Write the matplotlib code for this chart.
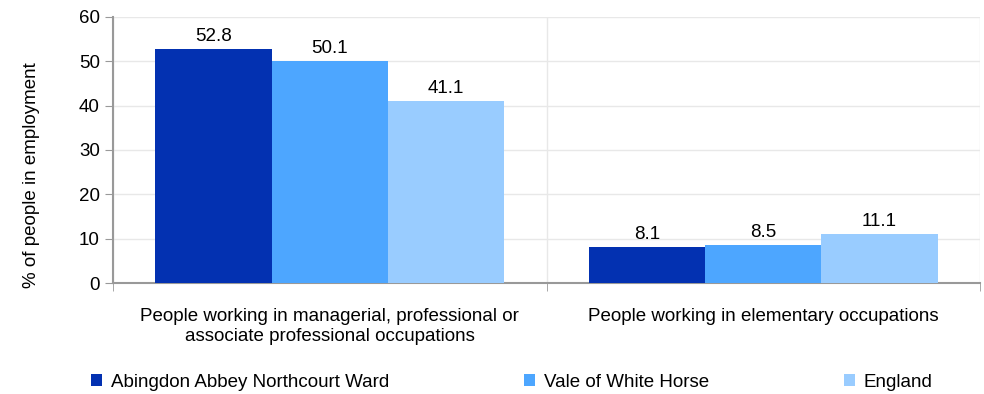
import numpy as np
import matplotlib
matplotlib.use("Agg")
from matplotlib import pyplot as plt

plt.rcParams['font.family'] = ['Liberation Sans', 'DejaVu Sans']

categories = ["People working in managerial, professional or\nassociate professional occupations",
              "People working in elementary occupations"]
series_names = ["Abingdon Abbey Northcourt Ward", "Vale of White Horse", "England"]
abingdon = [52.8, 8.1]
vale = [50.1, 8.5]
england = [41.1, 11.1]
colors = ["#0331b1", "#4da6ff", "#99ccff"]

fs = 13.5
fig = plt.figure(figsize=(9.84, 3.94), dpi=100)
ax = fig.add_axes([0.1148, 0.2817, 0.8812, 0.6752])

x = np.arange(len(categories))
width = 0.268
for i, (vals, name) in enumerate(zip([abingdon, vale, england], series_names)):
    bars = ax.bar(x + (i - 1) * width, vals, width, color=colors[i], label=name, zorder=3)
    ax.bar_label(bars, labels=[f"{v:.1f}" for v in vals], padding=3, fontsize=fs)

ax.set_xlim(-0.5, len(categories) - 0.5)
ax.set_ylim(0, 60)
ax.set_yticks(range(0, 61, 10))
ax.set_xticks(x)
ax.set_xticklabels(categories, fontsize=fs)
ax.set_xticks([-0.5, 0.5, 1.5], minor=True)
ax.tick_params(axis='x', which='major', length=0, pad=18)
ax.tick_params(axis='x', which='minor', length=6, color='#999999')
ax.tick_params(axis='y', length=6, color='#999999', labelsize=fs)

ax.grid(axis='y', color='#e8e8e8', linewidth=1, zorder=0)
ax.grid(axis='x', which='minor', color='#e8e8e8', linewidth=1, zorder=0)
for s in ['top', 'right']:
    ax.spines[s].set_visible(False)
for s in ['left', 'bottom']:
    ax.spines[s].set_color('#999999')
    ax.spines[s].set_linewidth(1.5)

ax.set_ylabel("% of people in employment", fontsize=fs)
ax.yaxis.set_label_coords(-0.084, 0.406)

fig.legend(loc='center', bbox_to_anchor=(0.52, 0.03), ncol=3, frameon=False,
           fontsize=fs, handlelength=0.6, handleheight=0.6, handletextpad=0.45,
           columnspacing=7.2)

fig.savefig("out.png", dpi=100)
